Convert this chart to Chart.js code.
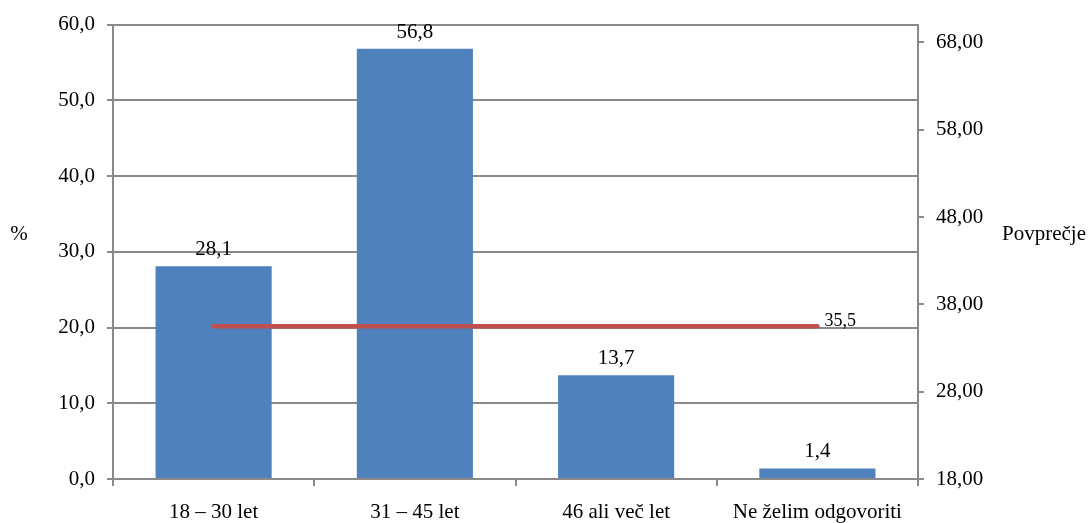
<!DOCTYPE html>
<html>
<head>
<meta charset="utf-8">
<script src="https://cdn.jsdelivr.net/npm/chart.js@4.4.1/dist/chart.umd.min.js"></script>
<style>
  html, body { margin: 0; padding: 0; background: #fff; }
  #wrap { width: 1091px; height: 523px; position: relative; }
</style>
</head>
<body>
<div id="wrap"><canvas id="c" width="1091" height="523"></canvas></div>
<script>
const categories = ['18 – 30 let', '31 – 45 let', '46 ali več let', 'Ne želim odgovoriti'];
const percentValues = [28.1, 56.8, 13.7, 1.4];
const averageValues = [35.5, 35.5, 35.5, 35.5];
const averageLabel = '35,5';
const leftTicks = [0, 10, 20, 30, 40, 50, 60];
const rightTicks = [18, 28, 38, 48, 58, 68];
const leftTitle = '%';
const rightTitle = 'Povprečje';

const FONT = '"Liberation Serif", "Times New Roman", serif';
const GRID = '#8a8a8a';
const FS = 21;

const fmt1 = v => v.toFixed(1).replace('.', ',');
const fmt2 = v => v.toFixed(2).replace('.', ',');

const labelsPlugin = {
  id: 'labels',
  afterDatasetsDraw(chart) {
    const ctx = chart.ctx;
    ctx.save();
    ctx.fillStyle = '#000';
    // bar value labels
    const barMeta = chart.getDatasetMeta(0);
    ctx.font = FS + 'px ' + FONT;
    ctx.textAlign = 'center';
    ctx.textBaseline = 'bottom';
    barMeta.data.forEach((el, i) => {
      ctx.fillText(fmt1(percentValues[i]), el.x, el.y - 6);
    });
    // line label at last point
    const lineMeta = chart.getDatasetMeta(1);
    const last = lineMeta.data[lineMeta.data.length - 1];
    ctx.font = '18px ' + FONT;
    ctx.textAlign = 'left';
    ctx.textBaseline = 'bottom';
    ctx.fillText(averageLabel, last.x + 7, last.y + 4);
    // axis titles (horizontal)
    ctx.font = FS + 'px ' + FONT;
    ctx.textBaseline = 'middle';
    ctx.textAlign = 'center';
    ctx.fillText(leftTitle, 19, 234);
    ctx.textAlign = 'left';
    ctx.fillText(rightTitle, 1002, 234);
    ctx.restore();
  }
};

new Chart(document.getElementById('c'), {
  type: 'bar',
  data: {
    labels: categories,
    datasets: [
      {
        type: 'bar',
        data: percentValues,
        backgroundColor: '#4F81BD',
        borderWidth: 0,
        yAxisID: 'y',
        categoryPercentage: 1.0,
        barPercentage: 0.577,
        order: 2
      },
      {
        type: 'line',
        data: averageValues,
        borderColor: '#C0504D',
        borderWidth: 4.5,
        pointRadius: 0,
        borderCapStyle: 'round',
        yAxisID: 'y1',
        order: 1
      }
    ]
  },
  options: {
    responsive: false,
    animation: false,
    devicePixelRatio: 1,
    layout: { padding: { top: 23, left: 0, right: 0, bottom: 0 } },
    plugins: { legend: { display: false }, tooltip: { enabled: false } },
    scales: {
      x: {
        offset: true,
        grid: { display: true, offset: true, drawOnChartArea: false, drawTicks: true, tickLength: 7, color: GRID, lineWidth: 2 },
        border: { display: true, color: GRID, width: 2 },
        ticks: { font: { family: FONT, size: FS }, color: '#000', padding: 14, maxRotation: 0, autoSkip: false },
        afterFit(s) { s.height = 44; }
      },
      y: {
        position: 'left',
        min: 0, max: 60,
        afterBuildTicks(s) { s.ticks = leftTicks.map(v => ({ value: v })); },
        grid: { color: GRID, lineWidth: 2, tickLength: 6, drawTicks: true },
        border: { display: true, color: GRID, width: 2 },
        ticks: { font: { family: FONT, size: FS }, color: '#000', padding: 12, callback: v => fmt1(v) },
        afterFit(s) { s.width = 113; }
      },
      y1: {
        position: 'right',
        min: 18, max: 70.05,
        afterBuildTicks(s) { s.ticks = rightTicks.map(v => ({ value: v })); },
        grid: { drawOnChartArea: false, drawTicks: true, tickLength: 6, color: GRID, lineWidth: 2 },
        border: { display: true, color: GRID, width: 2 },
        ticks: { font: { family: FONT, size: FS }, color: '#000', padding: 12, callback: v => fmt2(v) },
        afterFit(s) { s.width = 173; }
      }
    }
  },
  plugins: [labelsPlugin]
});
</script>
</body>
</html>
